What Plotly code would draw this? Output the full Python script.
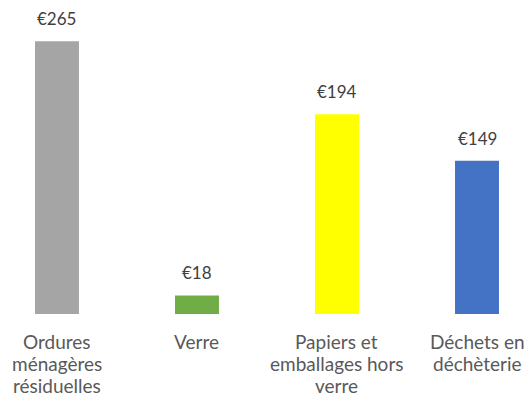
import plotly.graph_objects as go

categories = ["Ordures<br>ménagères<br>résiduelles", "Verre", "Papiers et<br>emballages hors<br>verre", "Déchets en<br>déchèterie"]
values = [265, 18, 194, 149]
value_labels = ["€265", "€18", "€194", "€149"]
colors = ["#A5A5A5", "#70AD47", "#FFFF00", "#4472C4"]

FONT = "Lato"
TXT = "#595959"

x = list(range(len(values)))
fig = go.Figure(go.Bar(x=x, y=values, marker=dict(color=colors, line=dict(width=0)), width=0.314, hoverinfo="skip"))

for i, (v, t) in enumerate(zip(values, value_labels)):
    fig.add_annotation(x=i, y=v, text=t, showarrow=False, yanchor="bottom", yshift=10,
                       font=dict(family=FONT, size=17, color="#404040"))
for i, c in enumerate(categories):
    for k, line in enumerate(c.split("<br>")):
        fig.add_annotation(x=i, y=0, yref="paper", text=line, showarrow=False, yanchor="top",
                           yshift=-14 - 22 * k, font=dict(family=FONT, size=19, color=TXT))

fig.update_layout(
    width=526, height=401,
    margin=dict(l=0, r=0, t=0, b=87),
    paper_bgcolor="white", plot_bgcolor="white",
    showlegend=False,
    xaxis=dict(range=[-0.407, 3.350], showticklabels=False, showgrid=False, zeroline=False, showline=False, fixedrange=True),
    yaxis=dict(range=[0, 305.1], showticklabels=False, showgrid=False, zeroline=False, showline=False, fixedrange=True),
)
fig.write_html("out.html", config={"displayModeBar": False},
               post_script="document.body.style.margin='0';document.body.style.overflow='hidden';")
